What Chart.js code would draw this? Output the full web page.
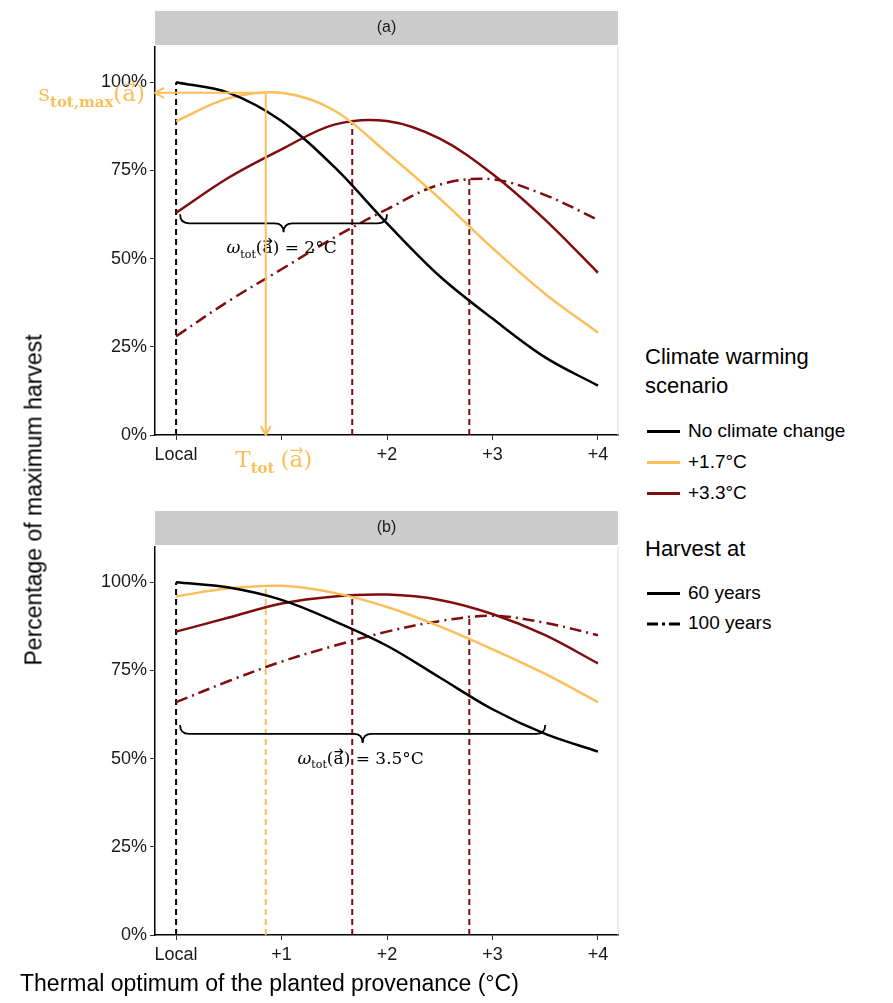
<!DOCTYPE html>
<html><head><meta charset="utf-8">
<script src="https://cdn.jsdelivr.net/npm/chart.js@4"></script>
<style>
body{margin:0;background:#fff;font-family:"Liberation Sans",Arial,sans-serif;}
#wrap{position:relative;width:893px;height:1003px;}
canvas{position:absolute;left:0;}
.t{position:absolute;color:#000;white-space:nowrap;}
.leg{position:absolute;left:647px;font-size:19px;}
.leg span{display:inline-block;width:33px;vertical-align:middle;margin-right:8px;}
.leg svg{vertical-align:middle;margin-right:8px;}
</style></head><body>
<div id="wrap">
<div style="position:absolute;left:0;top:0;width:630px;height:480px"><canvas id="c1"></canvas></div>
<div style="position:absolute;left:0;top:500px;width:630px;height:480px"><canvas id="c2"></canvas></div>
<div class="t" style="left:34px;top:500px;font-size:23px;transform:translate(-50%,-50%) rotate(-90deg)">Percentage of maximum harvest</div>
<div class="t" style="left:20px;top:970px;font-size:23px">Thermal optimum of the planted provenance (°C)</div>
<div class="t" style="left:645px;top:342px;font-size:22px;line-height:29px">Climate warming<br>scenario</div>
<div class="leg" style="top:420px"><span style="border-top:3px solid #000"></span>No climate change</div>
<div class="leg" style="top:451px"><span style="border-top:3px solid #fbbf5a"></span>+1.7°C</div>
<div class="leg" style="top:482px"><span style="border-top:3px solid #7f0d0d"></span>+3.3°C</div>
<div class="t" style="left:645px;top:536px;font-size:22px">Harvest at</div>
<div class="leg" style="top:582px"><span style="border-top:3px solid #000"></span>60 years</div>
<div class="leg" style="top:612px"><svg width="33" height="6"><line x1="0" y1="3" x2="33" y2="3" stroke="#000" stroke-width="3" stroke-dasharray="11 4 3 4"/></svg>100 years</div>
</div>
<script>
const xs = [0, 0.5, 1, 1.5, 2, 2.5, 3, 3.5, 4];
const xTicks = [0, 1, 2, 3, 4];
const xLabelsA = ['Local', '', '+2', '+3', '+4'];
const xLabelsB = ['Local', '+1', '+2', '+3', '+4'];
const yTicks = [0, 25, 50, 75, 100];
// panel (a)
const aNone = [100, 97, 89, 76, 60, 45, 33, 22, 14];
const aWarm17 = [89, 95.5, 97, 92, 80, 67, 53, 40, 29];
const aWarm33 = [63, 73, 81, 88, 89, 84, 74, 61, 46];
const aWarm33y100 = [28, 38, 47, 56, 64, 71, 72.5, 68, 61];
// panel (b)
const bNone = [100, 98.5, 95, 89, 82, 73, 64, 57, 52];
const bWarm17 = [96, 98.3, 99, 97, 93, 87.5, 81, 74, 66];
const bWarm33 = [86, 90, 94, 96, 96.5, 95, 91, 85, 77];
const bWarm33y100 = [66, 72, 77.5, 82, 86, 89, 90.5, 88.5, 85];
// optima lines [x, top]
const aOpt = [[0, 100], [1.67, 89], [2.78, 73]];
const bOpt = [[0, 100], [0.85, 99], [1.67, 96.5], [2.78, 90.5]];
const aOrangeOpt = [0.85, 97];
const aBrace = [0, 2, 60];
const bBrace = [0, 3.5, 57];

const BLACK = '#000', ORANGE = '#fbbf5a', RED = '#7f0d0d';
const pts = arr => arr.map((v, i) => ({x: xs[i], y: v}));

function ds(data, color, dash) {
  return {data: pts(data), borderColor: color, borderWidth: 2.5, pointRadius: 0,
    tension: 0.35, borderDash: dash || [], fill: false};
}

// draws parts [{t, sub, italic, vec}] starting at x, baseline y; returns width
function mathText(c, parts, x, y, size, measureOnly) {
  let w = 0;
  parts.forEach(p => {
    const s = p.sub ? size * 0.65 : size;
    c.font = (p.italic ? 'italic ' : '') + (p.bold ? 'bold ' : '') + s + 'px "DejaVu Serif"';
    const pw = c.measureText(p.t).width;
    if (!measureOnly) {
      c.fillText(p.t, x + w, y + (p.sub ? size * 0.25 : 0));
      if (p.vec) {
        const ay = y - size * 0.72, ax1 = x + w + 1, ax2 = x + w + pw - 1;
        c.beginPath(); c.moveTo(ax1, ay); c.lineTo(ax2, ay);
        c.moveTo(ax2 - 3, ay - 3); c.lineTo(ax2, ay); c.lineTo(ax2 - 3, ay + 3);
        c.lineWidth = 1.2; c.strokeStyle = c.fillStyle; c.stroke();
      }
    }
    w += pw + (p.gap || 0);
  });
  return w;
}
function mathCentered(c, parts, cx, y, size) {
  const w = mathText(c, parts, 0, 0, size, true);
  mathText(c, parts, cx - w / 2, y, size);
}

function brace(ctx, x1, x2, y) {
  const h = 9, m = (x1 + x2) / 2;
  ctx.beginPath();
  ctx.moveTo(x1, y - h);
  ctx.quadraticCurveTo(x1, y, x1 + h, y);
  ctx.lineTo(m - h, y);
  ctx.quadraticCurveTo(m, y, m, y + h);
  ctx.quadraticCurveTo(m, y, m + h, y);
  ctx.lineTo(x2 - h, y);
  ctx.quadraticCurveTo(x2, y, x2, y - h);
  ctx.stroke();
}

function arrowHead(ctx, x, y, dir) {
  ctx.beginPath();
  if (dir === 'down') { ctx.moveTo(x - 5, y - 9); ctx.lineTo(x, y); ctx.lineTo(x + 5, y - 9); }
  else { ctx.moveTo(x + 9, y - 5); ctx.lineTo(x, y); ctx.lineTo(x + 9, y + 5); }
  ctx.stroke();
}

const extras = {
  id: 'extras',
  beforeDatasetsDraw(chart) {
    const o = chart.options.plugins.extras, c = chart.ctx, X = chart.scales.x, Y = chart.scales.y;
    const a = chart.chartArea;
    c.save();
    c.fillStyle = '#cccccc';
    c.fillRect(a.left, a.top - 36, a.right - a.left, 34);
    c.fillStyle = '#1a1a1a'; c.font = '16px "Liberation Sans"'; c.textAlign = 'center'; c.textBaseline = 'middle';
    c.fillText(o.title, (a.left + a.right) / 2, a.top - 19);
    c.strokeStyle = '#d9d9d9'; c.lineWidth = 1;
    c.beginPath(); c.moveTo(a.right, a.top); c.lineTo(a.right, a.bottom); c.stroke();
    c.lineWidth = 2; c.setLineDash([6, 4]);
    o.opt.forEach((p, i) => {
      c.strokeStyle = p[0] === 0 ? BLACK : (o.orangeIdx === i ? ORANGE : RED);
      c.beginPath(); c.moveTo(X.getPixelForValue(p[0]), Y.getPixelForValue(0));
      c.lineTo(X.getPixelForValue(p[0]), Y.getPixelForValue(p[1])); c.stroke();
    });
    c.setLineDash([]);
    c.restore();
  },
  afterDatasetsDraw(chart) {
    const o = chart.options.plugins.extras, c = chart.ctx, X = chart.scales.x, Y = chart.scales.y;
    c.save();
    c.strokeStyle = '#000'; c.lineWidth = 1.8;
    brace(c, X.getPixelForValue(o.brace[0]) + 4, X.getPixelForValue(o.brace[1]), Y.getPixelForValue(o.brace[2]));
    c.fillStyle = '#000'; c.textAlign = 'left'; c.textBaseline = 'alphabetic';
    mathCentered(c, [{t: 'ω', italic: true}, {t: 'tot', sub: true}, {t: '('}, {t: 'a', vec: true}, {t: ') = ' + o.braceText}],
      X.getPixelForValue((o.brace[0] + o.brace[1]) / 2), Y.getPixelForValue(o.brace[2]) + 30, 17);
    if (o.orangeArrow) {
      const px = X.getPixelForValue(o.orangeArrow[0]), py = Y.getPixelForValue(o.orangeArrow[1]);
      c.strokeStyle = ORANGE; c.lineWidth = 2;
      c.beginPath(); c.moveTo(px, py); c.lineTo(px, Y.getPixelForValue(0)); c.stroke();
      arrowHead(c, px, Y.getPixelForValue(0), 'down');
      c.beginPath(); c.moveTo(px, py); c.lineTo(chart.chartArea.left, py); c.stroke();
      arrowHead(c, chart.chartArea.left, py, 'left');
      c.fillStyle = ORANGE;
      const sParts = [{t: 's'}, {t: 'tot,max', sub: true, bold: true}, {t: '('}, {t: 'a', vec: true}, {t: ')'}];
      const w = mathText(c, sParts, 0, 0, 23, true);
      mathText(c, sParts, chart.chartArea.left - 10 - w, py + 8, 23);
      mathCentered(c, [{t: 'T'}, {t: 'tot', sub: true, bold: true, gap: 6}, {t: '('}, {t: 'a', vec: true}, {t: ')'}],
        px + 8, Y.getPixelForValue(0) + 32, 23);
    }
    c.restore();
  }
};

function makeChart(id, series, labels, opt) {
  new Chart(document.getElementById(id), {
    type: 'line',
    data: {datasets: [
      ds(series[0], BLACK), ds(series[1], ORANGE), ds(series[2], RED), ds(series[3], RED, [12, 5, 2, 5])
    ]},
    options: {
      responsive: true, maintainAspectRatio: false, animation: false,
      layout: {padding: {top: 47, right: 12, left: 0, bottom: 0}},
      plugins: {legend: {display: false}, tooltip: {enabled: false}, extras: opt},
      scales: {
        x: {type: 'linear', min: -0.2, max: 4.19,
          afterBuildTicks: s => { s.ticks = xTicks.map(v => ({value: v})); },
          afterFit: s => { s.height = 45; },
          ticks: {color: '#1a1a1a', font: {size: 18}, padding: 4, callback: (v) => labels[xTicks.indexOf(v)] ?? ''},
          grid: {drawOnChartArea: false, tickLength: 5, color: '#333'},
          border: {color: '#000', width: 1.5}},
        y: {min: 0, max: 110,
          afterBuildTicks: s => { s.ticks = yTicks.map(v => ({value: v})); },
          afterFit: s => { s.width = 155; },
          ticks: {color: '#1a1a1a', font: {size: 18}, callback: v => v + '%'},
          grid: {drawOnChartArea: false, tickLength: 5, color: '#333'},
          border: {color: '#000', width: 1.5}}
      }
    },
    plugins: [extras]
  });
}

makeChart('c1', [aNone, aWarm17, aWarm33, aWarm33y100], xLabelsA,
  {title: '(a)', opt: aOpt, brace: aBrace, braceText: '2°C', orangeArrow: aOrangeOpt});
makeChart('c2', [bNone, bWarm17, bWarm33, bWarm33y100], xLabelsB,
  {title: '(b)', opt: bOpt, brace: bBrace, braceText: '3.5°C', orangeIdx: 1});
</script>
</body></html>
